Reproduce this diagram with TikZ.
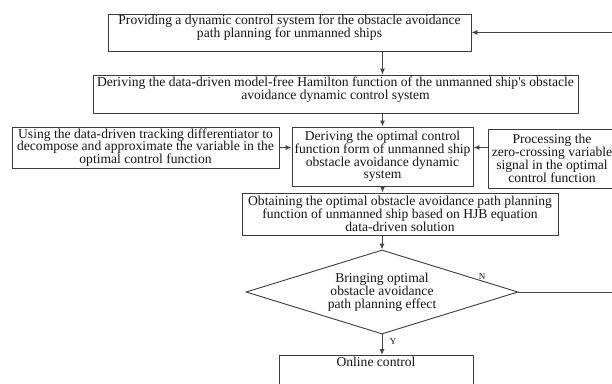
\documentclass[tikz,border=0pt]{standalone}
\usepackage{fontspec}
\setmainfont{Liberation Serif}
\usetikzlibrary{shapes.geometric, arrows.meta}

\definecolor{boxgray}{RGB}{60,60,60}
\definecolor{linegray}{RGB}{70,70,70}
\definecolor{inkblack}{RGB}{20,20,20}

\tikzset{
  flowbox/.style={draw=boxgray, line width=0.9pt, align=center, inner sep=0pt,
    text=inkblack, font=\fontsize{13.6}{12.8}\selectfont},
  decision/.style={flowbox, diamond, aspect=3.2},
  flowarrow/.style={draw=linegray, line width=0.9pt, -{Latex[length=6pt,width=5pt]}},
  flag/.style={text=inkblack, inner sep=0pt, font=\fontsize{9}{9}\selectfont},
}

\begin{document}
\begin{tikzpicture}[x=1pt,y=-1pt]
\useasboundingbox (0,0) rectangle (612,383);

\node[flowbox, minimum width=363pt, minimum height=37pt, text depth=12pt] (provide) at (289.5,32.5)
  {Providing a dynamic control system for the obstacle avoidance\\path planning for unmanned ships};

\node[flowbox, minimum width=485pt, minimum height=38pt, text depth=12pt] (hamilton) at (335.5,94)
  {Deriving the data-driven model-free Hamilton function of the unmanned ship\textquotesingle s obstacle\\avoidance dynamic control system};

\node[flowbox, minimum width=267pt, minimum height=41pt] (track) at (145.5,147.5)
  {Using the data-driven tracking differentiator to\\decompose and approximate the variable in the\\optimal control function};

\node[flowbox, minimum width=181pt, minimum height=59pt] (optctl) at (382.5,156.5)
  {Deriving the optimal control\\function form of unmanned ship\\obstacle avoidance dynamic\\system};

\node[flowbox, minimum width=128pt, minimum height=59pt] (zerox) at (552,158.5)
  {Processing the\\zero-crossing variable\\signal in the optimal\\control function};

\node[flowbox, minimum width=316pt, minimum height=42pt] (hjb) at (400,214)
  {Obtaining the optimal obstacle avoidance path planning\\function of unmanned ship based on HJB equation\\data-driven solution};

\node[decision, minimum width=272pt, minimum height=84pt] (decide) at (382,292)
  {Bringing optimal\\obstacle avoidance\\path planning effect};

\node[flowbox, anchor=north, minimum width=194pt, inner ysep=2pt, text depth=40pt] (online) at (376,355)
  {Online control};

\node[flag] (no) at (482,277) {N};
\node[flag] (yes) at (393,342) {Y};

\coordinate (loop) at (640,0);

\draw[flowarrow] (provide.south -| optctl) -- (optctl |- hamilton.north);
\draw[flowarrow] (hamilton.south -| optctl) -- (optctl.north);
\draw[flowarrow] (track.east) -- (track.east -| optctl.west);
\draw[flowarrow] (zerox.west |- track.east) -- (optctl.east |- track.east);
\draw[flowarrow] (optctl.south) -- (optctl.south |- hjb.north);
\draw[flowarrow] (hjb.south -| decide) -- (decide.north);
\draw[flowarrow] (decide.south) -- (decide.south |- online.north);
\draw[flowarrow] (decide.east) -- (decide.east -| loop) |- (provide.east);

\end{tikzpicture}
\end{document}
